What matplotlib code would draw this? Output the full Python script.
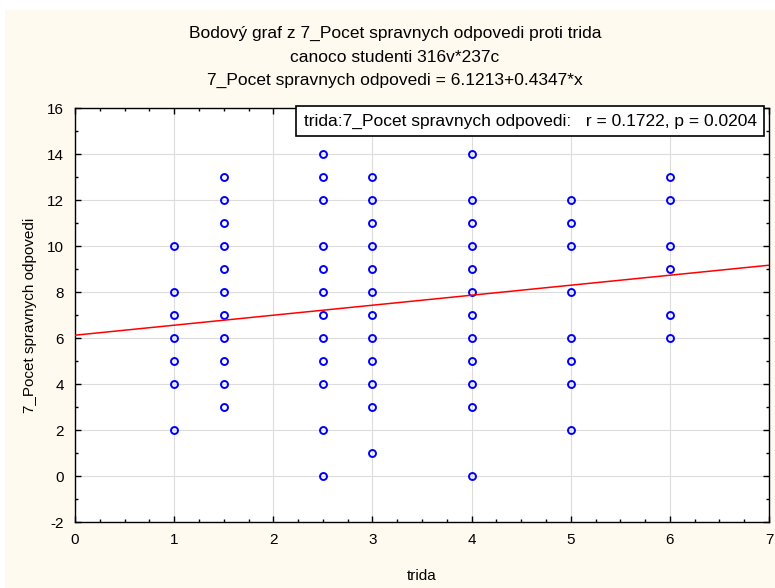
import matplotlib.pyplot as plt
from matplotlib.patches import Rectangle
from matplotlib.ticker import MultipleLocator

# values, one list per class (trida)
trida_classes = [1, 1.5, 2.5, 3, 4, 5, 6]
pocet_1 = [10, 8, 7, 6, 5, 4, 2]
pocet_15 = [13, 12, 11, 10, 9, 8, 7, 6, 5, 4, 3]
pocet_25 = [15, 14, 13, 12, 10, 9, 8, 7, 6, 5, 4, 2, 0]
pocet_3 = [15, 13, 12, 11, 10, 9, 8, 7, 6, 5, 4, 3, 1]
pocet_4 = [14, 12, 11, 10, 9, 8, 7, 6, 5, 4, 3, 0]
pocet_5 = [12, 11, 10, 8, 6, 5, 4, 2]
pocet_6 = [13, 12, 10, 9, 7, 6]
pocet_lists = [pocet_1, pocet_15, pocet_25, pocet_3, pocet_4, pocet_5, pocet_6]

intercept = 6.1213
slope = 0.4347
r_val = 0.1722
p_val = 0.0204

plt.rcParams['font.family'] = ['Liberation Sans', 'DejaVu Sans']
plt.rcParams['axes.unicode_minus'] = False

fig = plt.figure(figsize=(7.75, 5.88), dpi=100)
fig.patch.set_facecolor('white')
# cream panel behind everything
fig.patches.append(Rectangle((5 / 775, 0), 1, 1 - 10 / 588, transform=fig.transFigure,
                             facecolor='#fffaf0', edgecolor='none', zorder=-10))

ax = fig.add_axes([75 / 775, 1 - 522 / 588, 694 / 775, 414 / 588])
ax.set_facecolor('white')

xs, ys = [], []
for t, vals in zip(trida_classes, pocet_lists):
    xs += [t] * len(vals)
    ys += vals
ax.plot(xs, ys, linestyle='none', marker='o', markersize=5, markerfacecolor='none',
        markeredgecolor='#0000ff', markeredgewidth=1.4, zorder=3)

line_x = [0, 7]
line_y = [intercept + slope * v for v in line_x]
ax.plot(line_x, line_y, color='#ff0000', linewidth=1.1, zorder=4)

ax.set_xlim(0, 7)
ax.set_ylim(-2, 16)
ax.xaxis.set_major_locator(MultipleLocator(1))
ax.xaxis.set_minor_locator(MultipleLocator(0.25))
ax.yaxis.set_major_locator(MultipleLocator(2))
ax.yaxis.set_minor_locator(MultipleLocator(1))
ax.tick_params(which='both', direction='in', top=True, right=True, width=1, colors='black',
               labelsize=11)
ax.tick_params(which='major', length=4, pad=8)
ax.tick_params(which='minor', length=2.5)
ax.grid(True, which='major', color='#dcdcdc', linewidth=0.8, zorder=0)
ax.set_axisbelow(True)
for s in ax.spines.values():
    s.set_linewidth(1)
    s.set_color('black')

ax.set_xlabel('trida', fontsize=11, labelpad=16)
ax.set_ylabel('7_Pocet spravnych odpovedi', fontsize=11, labelpad=7)

ax.text(0.9823, 0.987, f'trida:7_Pocet spravnych odpovedi:   r = {r_val:.4f}, p = {p_val:.4f}',
        transform=ax.transAxes, ha='right', va='top', fontsize=12.5, zorder=10,
        bbox=dict(boxstyle='square,pad=0.42', facecolor='white', edgecolor='black', linewidth=1.2))

fig.text(395 / 775, 1 - 33 / 588, 'Bodový graf z 7_Pocet spravnych odpovedi proti trida',
         ha='center', va='center', fontsize=12.5)
fig.text(395 / 775, 1 - 57 / 588, 'canoco studenti 316v*237c', ha='center', va='center', fontsize=12.5)
fig.text(395 / 775, 1 - 80 / 588, f'7_Pocet spravnych odpovedi = {intercept}+{slope}*x',
         ha='center', va='center', fontsize=12.5)

fig.savefig('out.png', dpi=100, facecolor=fig.get_facecolor())
